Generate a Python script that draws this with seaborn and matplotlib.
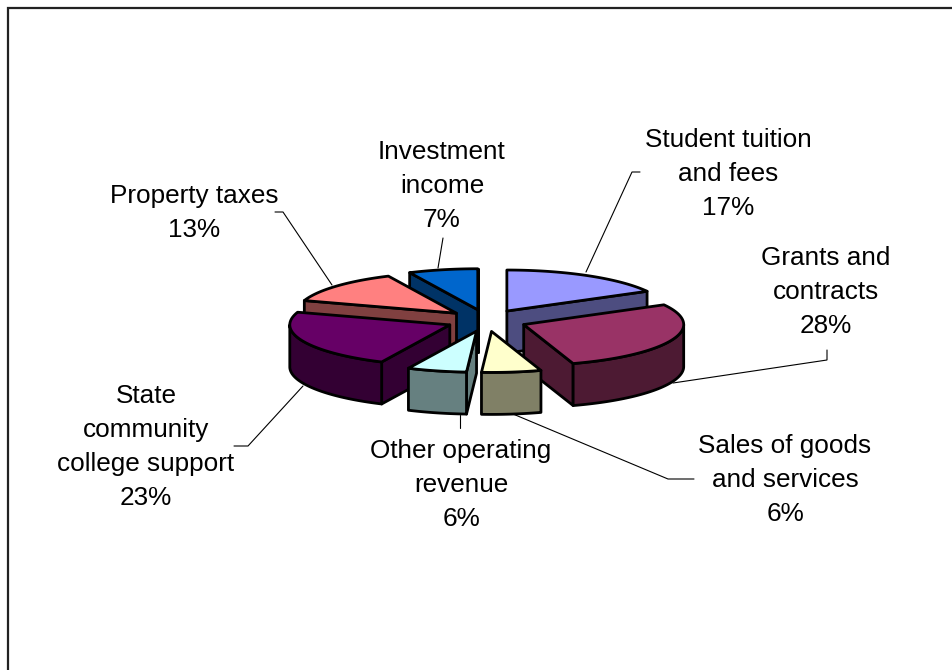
import numpy as np
import matplotlib
matplotlib.use("Agg")
import matplotlib.pyplot as plt
from matplotlib.patches import Polygon
import seaborn as sns

# Revenue sources, clockwise from twelve o'clock
labels = ["Student tuition\nand fees\n17%", "Grants and\ncontracts\n28%",
          "Sales of goods\nand services\n6%", "Other operating\nrevenue\n6%",
          "State\ncommunity\ncollege support\n23%", "Property taxes\n13%",
          "Investment\nincome\n7%"]
shares = [17, 28, 6, 6, 23, 13, 7]
top_colors = ["#9999FF", "#993366", "#FFFFCC", "#CCFFFF", "#660066", "#FF8080", "#0066CC"]
label_pos = [(728, 174), (826, 292), (785, 480), (461, 485), (146, 447), (194, 213), (442, 186)]

# Leader line paths, one per label
leaders = [[(586, 272), (632, 172), (640, 172)],
           [(673, 383), (827, 360), (827, 350)],
           [(513, 414), (668, 479), (694, 479)],
           [(460, 415), (460, 428)],
           [(303, 386), (248, 446), (234, 446)],
           [(332, 285), (283, 212), (275, 212)],
           [(438, 268), (443, 238)]]

# Tilted pie geometry in pixels
CX, CY = 486.5, 320.5
RX, RY = 160, 41
EXPLODE_X, EXPLODE_Y = 40, 11
DEPTH = 42
# Back-to-front painting order
draw_order = [6, 0, 5, 1, 4, 3, 2]

sns.set_theme(style="white")
plt.rcParams["font.family"] = ["Liberation Sans", "DejaVu Sans"]
palette = sns.color_palette(top_colors)

fig = plt.figure(figsize=(9.52, 6.70), dpi=100, facecolor="white")
ax = fig.add_axes([0, 0, 1, 1])
ax.set_xlim(0, 952)
ax.set_ylim(670, 0)
ax.axis("off")


def rim(ox, oy, deg):
    a = np.radians(deg)
    return np.column_stack([ox + RX * np.sin(a), oy - RY * np.cos(a)])


def extrude(pts):
    return np.vstack([pts, pts[::-1] + [0, DEPTH]])


def face(pts, color):
    ax.add_patch(Polygon(pts, closed=True, facecolor=color, edgecolor="black",
                         linewidth=2.0, joinstyle="round"))


edges = np.concatenate([[0], np.cumsum(shares)]) / sum(shares) * 360

for i in draw_order:
    start, end = edges[i], edges[i + 1]
    mid = np.radians((start + end) / 2)
    ox = CX + EXPLODE_X * np.sin(mid)
    oy = CY - EXPLODE_Y * np.cos(mid)
    apex = np.array([[ox, oy]])
    color = np.array(palette[i])
    side = tuple(color * 0.5)

    # Radial walls, drawn when they face the viewer
    for deg, normal in ((start, start - 90), (end, end + 90)):
        if -np.cos(np.radians(normal)) > -1e-6:
            face(extrude(np.vstack([apex, rim(ox, oy, np.array([deg]))])), side)

    # Outer curved wall on the front half only
    lo, hi = max(start, 90), min(end, 270)
    if hi > lo:
        face(extrude(rim(ox, oy, np.linspace(lo, hi, 60))), side)

    # Top surface
    arc = rim(ox, oy, np.linspace(start, end, 80))
    face(np.vstack([apex, arc]), tuple(color))

for path in leaders:
    xs, ys = zip(*path)
    ax.plot(xs, ys, color="black", linewidth=0.8, solid_joinstyle="miter")

for text, (x, y) in zip(labels, label_pos):
    ax.text(x, y, text, ha="center", va="center", fontsize=18.8,
            color="black", linespacing=1.51)

# Chart area border along the top and left
ax.plot([8, 8, 952], [670, 8, 8], color="#222222", linewidth=1.6, solid_joinstyle="miter")

fig.savefig("out.png", dpi=100)
